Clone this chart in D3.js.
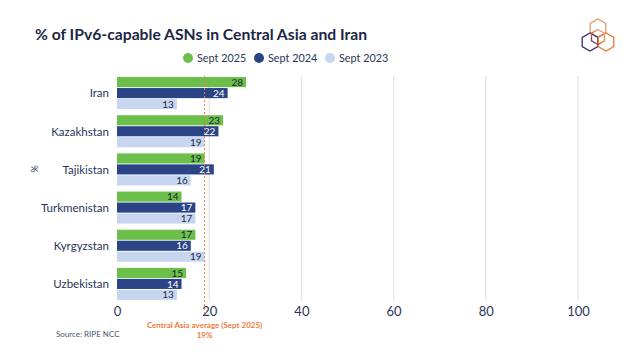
<!DOCTYPE html>
<html><head><meta charset="utf-8">
<script src="https://cdn.jsdelivr.net/npm/d3@7"></script>
<style>body{margin:0;background:#fff;}svg{display:block;font-family:Lato, "Noto Sans", sans-serif;}</style>
</head><body>
<script>
const countries = ["Iran","Kazakhstan","Tajikistan","Turkmenistan","Kyrgyzstan","Uzbekistan"];
const seriesNames = ["Sept 2025","Sept 2024","Sept 2023"];
const sept2025 = [28,23,19,14,17,15];
const sept2024 = [24,22,21,17,16,14];
const sept2023 = [13,19,16,17,19,13];
const xTicks = [0,20,40,60,80,100];
const average2025 = 19;

const colors = ["#6cbf4b","#2a4486","#c6d6ee"];
const labelColors = ["#1a2433","#ffffff","#1e2a4a"];
const seriesValues = [sept2025, sept2024, sept2023];

const W=640,H=360;
const svg=d3.select("body").append("svg").attr("width",W).attr("height",H);

const x=d3.scaleLinear().domain([0,100]).range([117,578]);
const y=d3.scaleBand().domain(countries).range([74,303]).paddingInner(0.16).paddingOuter(0.08);
const sub=d3.scaleBand().domain(seriesNames).range([0,y.bandwidth()]).paddingInner(0.08);

// grid
svg.append("g").selectAll("line").data(xTicks.filter(d=>d>0)).join("line")
  .attr("x1",d=>x(d)).attr("x2",d=>x(d)).attr("y1",76).attr("y2",301)
  .attr("stroke","#e4e4e4").attr("stroke-width",1.2);

// title
svg.append("text").attr("x",35).attr("y",40).text("% of IPv6-capable ASNs in Central Asia and Iran")
  .attr("font-size",15.7).attr("font-weight",700).attr("fill","#1c2745");

// legend
const lg=svg.append("g");
const legX=[188,259,330];
seriesNames.forEach((s,i)=>{
  lg.append("circle").attr("cx",legX[i]).attr("cy",58).attr("r",5).attr("fill",colors[i]);
  lg.append("text").attr("x",legX[i]+9).attr("y",61.8).text(s).attr("font-size",10.8).attr("fill","#2a3558");
});

// bars
const rows=[];
countries.forEach((c,ci)=>seriesNames.forEach((s,si)=>rows.push({c,s,si,v:seriesValues[si][ci]})));
const bars=svg.append("g");
bars.selectAll("rect").data(rows).join("rect")
  .attr("x",x(0)).attr("y",d=>y(d.c)+sub(d.s)).attr("width",d=>x(d.v)-x(0)).attr("height",sub.bandwidth())
  .attr("fill",d=>colors[d.si]);
bars.selectAll("text").data(rows).join("text")
  .attr("x",d=>x(d.v)-3).attr("y",d=>y(d.c)+sub(d.s)+sub.bandwidth()/2+3.6)
  .attr("text-anchor","end").attr("font-size",10).attr("fill",d=>labelColors[d.si]).text(d=>d.v);

// category labels
svg.append("g").selectAll("text").data(countries).join("text")
  .attr("x",109).attr("y",d=>y(d)+y.bandwidth()/2+4.3).attr("text-anchor","end")
  .attr("font-size",11.5).attr("fill","#2a3558").text(d=>d);

// axis
const ax=svg.append("g").attr("transform","translate(0,303)").call(d3.axisBottom(x).tickValues(xTicks).tickSize(0).tickPadding(4));
ax.select(".domain").remove();
ax.selectAll("text").attr("font-size",13).attr("fill","#2a3558").attr("font-family","Lato, 'Noto Sans', sans-serif");

// y-axis title
svg.append("text").attr("transform","translate(38,169) rotate(-90)").attr("text-anchor","middle")
  .attr("font-size",9).attr("fill","#2a3558").text("%");

// average line
svg.append("line").attr("x1",x(average2025)).attr("x2",x(average2025)).attr("y1",76).attr("y2",315)
  .attr("stroke","#f07a3a").attr("stroke-width",1).attr("stroke-dasharray","2,2");
svg.append("text").attr("x",x(average2025)).attr("y",327.5).attr("text-anchor","middle").attr("font-size",8)
  .attr("font-weight",700).attr("fill","#f07a3a").text("Central Asia average (Sept 2025)");
svg.append("text").attr("x",x(average2025)).attr("y",338).attr("text-anchor","middle").attr("font-size",8)
  .attr("font-weight",700).attr("fill","#f07a3a").text(average2025+"%");

// source
svg.append("text").attr("x",56).attr("y",337).attr("font-size",8).attr("fill","#4a5470").text("Source: RIPE NCC");

// logo
const defs=svg.append("defs");
const gr=defs.append("linearGradient").attr("id","lg1").attr("x1","0").attr("y1","1").attr("x2","1").attr("y2","0");
gr.append("stop").attr("offset","0").attr("stop-color","#3a2e7a");
gr.append("stop").attr("offset","0.5").attr("stop-color","#f07a30");
gr.append("stop").attr("offset","1").attr("stop-color","#d8b8a8");
function hex(cx,cy,r){const p=[];for(let i=0;i<6;i++){const a=Math.PI/180*(60*i-90);p.push([cx+r*Math.cos(a),cy+r*Math.sin(a)]);}return "M"+p.map(q=>q.join(",")).join("L")+"Z";}
const logo=svg.append("g").attr("fill","none").attr("stroke-width",1.3);
logo.append("path").attr("d",hex(598,28,9)).attr("stroke","#e79a6a");
logo.append("path").attr("d",hex(590,42,9)).attr("stroke","#3b3170");
logo.append("path").attr("d",hex(606,42,9)).attr("stroke","#ef7a34");
logo.append("path").attr("d",hex(598,37,7.5)).attr("stroke","url(#lg1)");
</script>
</body></html>
